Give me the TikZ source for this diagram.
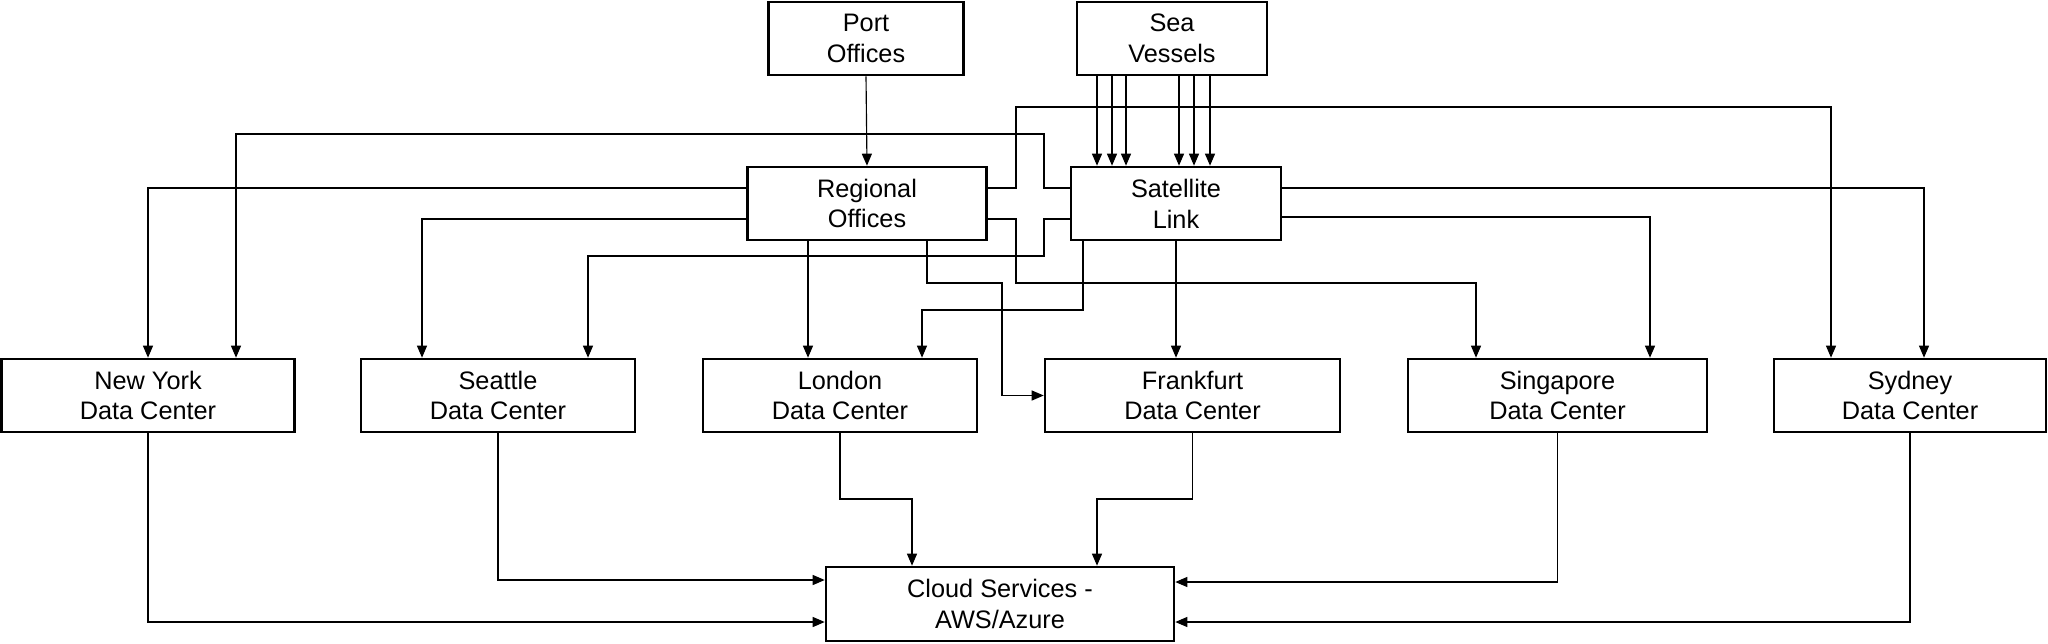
\documentclass[tikz,border=0pt]{standalone}
\usepackage{fontspec}
\setmainfont{Liberation Sans}
\usetikzlibrary{arrows.meta,positioning}
\definecolor{ink}{HTML}{000000}
\tikzset{
  box/.style={draw=ink, fill=white, line width=1.5pt, align=center,
              font=\fontsize{14.4}{17.5}\selectfont, inner sep=2pt,
              minimum height=1.46cm},
  ar/.style={-{Triangle[length=0.24cm,width=0.2cm]}, line width=0.65pt, draw=ink}
}
\begin{document}
\begin{tikzpicture}[x=0.02cm,y=-0.02cm]
  \useasboundingbox (0,0) rectangle (2048,643);

  \node[box, minimum width=3.9cm] (port) at (866,38.5) {Port\\Offices};
  \node[box, minimum width=3.8cm] (vessels) at (1172,38.5) {Sea\\Vessels};
  \node[box, minimum width=4.78cm] (reg) at (867,203.5) {Regional\\Offices};
  \node[box, minimum width=4.2cm] (sat) at (1176,203.5) {Satellite\\Link};

  \node[box, minimum width=5.86cm] (ny) at (148,395.5) {New York\\Data Center};
  \node[box, minimum width=5.48cm] (seattle) at (498,395.5) {Seattle\\Data Center};
  \node[box, minimum width=5.48cm] (london) at (840,395.5) {London\\Data Center};
  \node[box, minimum width=5.9cm] (frank) at (1192.5,395.5) {Frankfurt\\Data Center};
  \node[box, minimum width=5.98cm] (sing) at (1557.5,395.5) {Singapore\\Data Center};
  \node[box, minimum width=5.44cm] (syd) at (1910,395.5) {Sydney\\Data Center};

  \node[box, minimum width=6.96cm, minimum height=1.48cm] (cloud) at (1000,604) {Cloud Services -\\AWS/Azure};

  \draw[ar] (port.south) -- (reg.north);
  \foreach \x in {1097,1112,1126,1179,1194,1210}
    \draw[ar] (\x,0 |- vessels.south) -- (\x,0 |- sat.north);

  \draw[ar] (reg.west |- 0,188) -| (ny.north);
  \draw[ar] (reg.west |- 0,219) -| (422,0 |- seattle.north);
  \draw[ar] (808,0 |- reg.south) -- (808,0 |- london.north);
  \draw[ar] (927,0 |- reg.south) -- (927,283) -- (1002,283) |- (frank.west);
  \draw[ar] (reg.east |- 0,219) -| (1016,283) -| (1476,0 |- sing.north);
  \draw[ar] (reg.east |- 0,188) -| (1016,107) -| (1831,0 |- syd.north);

  \draw[ar] (sat.west |- 0,188) -| (1044,134) -| (236,0 |- ny.north);
  \draw[ar] (sat.west |- 0,219) -| (1044,256) -| (588,0 |- seattle.north);
  \draw[ar] (1083,0 |- sat.south) -- (1083,310) -| (922,0 |- london.north);
  \draw[ar] (sat.south) -- (sat.south |- frank.north);
  \draw[ar] (sat.east |- 0,217) -| (1650,0 |- sing.north);
  \draw[ar] (sat.east |- 0,188) -| (1924,0 |- syd.north);

  \draw[ar] (ny.south) |- (cloud.west |- 0,622);
  \draw[ar] (seattle.south) |- (cloud.west |- 0,580);
  \draw[ar] (london.south) -- (840,499) -| (912,0 |- cloud.north);
  \draw[ar] (frank.south) -- (1192.5,499) -| (1097,0 |- cloud.north);
  \draw[ar] (sing.south) |- (cloud.east |- 0,582);
  \draw[ar] (syd.south) |- (cloud.east |- 0,622);
\end{tikzpicture}
\end{document}
